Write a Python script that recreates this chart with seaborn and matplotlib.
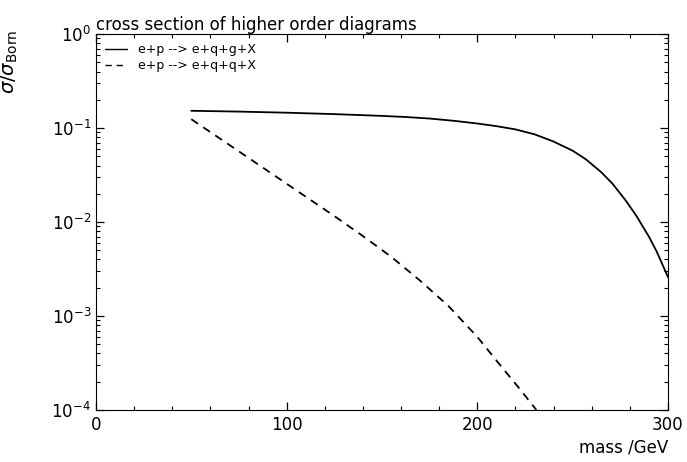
import matplotlib
matplotlib.use("Agg")
import matplotlib.pyplot as plt
import matplotlib.ticker as mticker
import numpy as np
import pandas as pd
import seaborn as sns

# e+p --> e+q+g+X (solid)
mass_qg = [50, 75, 100, 125, 150, 162, 175, 188, 200, 210, 220, 230, 240,
           250, 257, 265, 271, 278, 283.5, 290, 294, 300]
sigma_qg = [0.153, 0.150, 0.146, 0.141, 0.135, 0.1315, 0.1265, 0.1195, 0.112,
            0.105, 0.097, 0.086, 0.072, 0.0575, 0.0465, 0.034, 0.0255, 0.0168,
            0.0116, 0.0070, 0.0049, 0.0026]

# e+p --> e+q+q+X (dashed)
mass_qq = [50, 75, 100, 125, 140, 155, 170, 185, 200, 212, 222, 231]
sigma_qq = [0.1245, 0.0565, 0.0256, 0.0116, 0.0071, 0.00425, 0.00238,
            0.00127, 0.00060, 0.000300, 0.000170, 0.0001]

labels = ["e+p --> e+q+g+X", "e+p --> e+q+q+X"]

df = pd.concat([
    pd.DataFrame({"mass": mass_qg, "sigma": sigma_qg, "process": labels[0]}),
    pd.DataFrame({"mass": mass_qq, "sigma": sigma_qq, "process": labels[1]}),
])

sns.set_style("ticks", {
    "xtick.direction": "in", "ytick.direction": "in",
    "axes.edgecolor": "black", "axes.linewidth": 1.0,
    "text.color": "black", "axes.labelcolor": "black",
    "xtick.color": "black", "ytick.color": "black",
})
plt.rcParams["font.family"] = ["DejaVu Sans"]
plt.rcParams["text.color"] = "black"

fig = plt.figure(figsize=(6.87, 4.62), dpi=100)
ax = fig.add_axes([0.1397, 0.1126, 0.8326, 0.8134])

sns.lineplot(data=df, x="mass", y="sigma", style="process",
             style_order=labels, dashes={labels[0]: "", labels[1]: (4.5, 3.5)},
             color="black", linewidth=1.3, ax=ax, legend=True)

ax.set_yscale("log")
ax.set_xlim(0, 300)
ax.set_ylim(1e-4, 1)

ax.xaxis.set_major_locator(mticker.MultipleLocator(100))
ax.xaxis.set_minor_locator(mticker.MultipleLocator(20))
ax.yaxis.set_major_locator(mticker.LogLocator(base=10, numticks=10))
ax.yaxis.set_minor_locator(mticker.LogLocator(base=10, subs=np.arange(2, 10), numticks=10))
ax.yaxis.set_minor_formatter(mticker.NullFormatter())

ax.tick_params(which="both", direction="in", top=True, right=True, colors="black",
               labelsize=12)
ax.tick_params(which="major", length=6, width=0.9)
ax.tick_params(which="minor", length=3, width=0.8)
ax.tick_params(axis="x", pad=4)

ax.set_title("cross section of higher order diagrams", loc="left", fontsize=12,
             pad=3, color="black")

ax.set_xlabel("mass /GeV", fontsize=12, loc="right", color="black")
ax.xaxis.set_label_coords(1.0, -0.075)
ax.set_ylabel(r"$\sigma/\sigma_{\rm Born}$", fontsize=14, color="black")
ax.yaxis.set_label_coords(-0.133, 0.925)

leg = ax.legend(loc="upper left", frameon=False, fontsize=9, handlelength=1.8,
                handletextpad=0.9, labelspacing=0.25, borderaxespad=0.3,
                bbox_to_anchor=(0.0, 1.0))
for line in leg.get_lines():
    line.set_linewidth(1.0)
for t in leg.get_texts():
    t.set_color("black")

fig.savefig("out.png", dpi=100, facecolor="white")
